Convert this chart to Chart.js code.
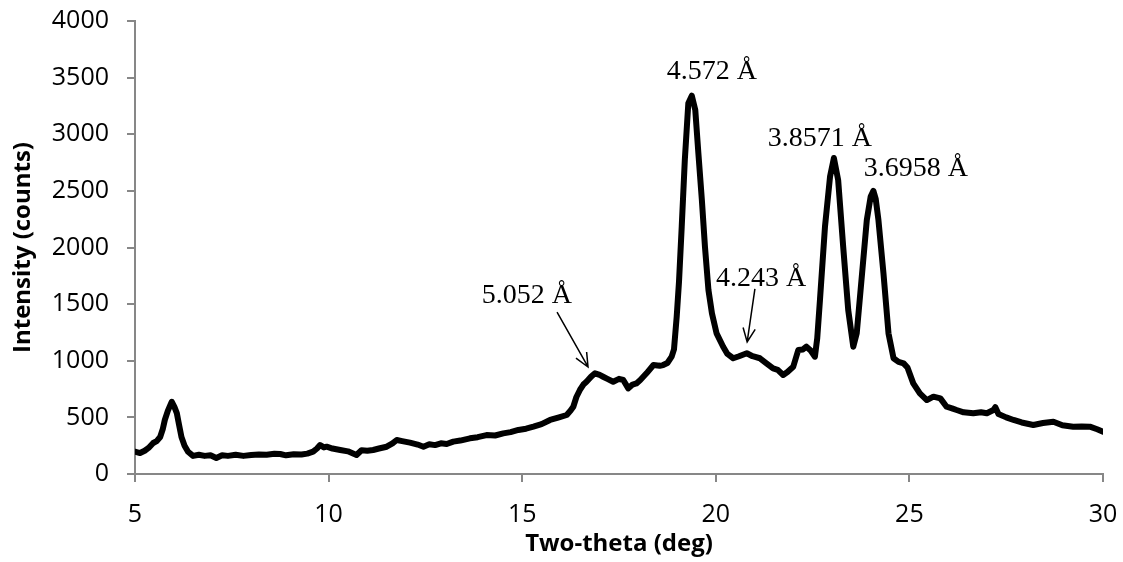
<!DOCTYPE html>
<html>
<head>
<meta charset="utf-8">
<script src="https://cdn.jsdelivr.net/npm/chart.js@4/dist/chart.umd.min.js"></script>
<style>
  body { margin: 0; background: #fff; }
  canvas { display: block; }
</style>
</head>
<body>
<canvas id="grafico" width="1123" height="562"></canvas>
<script>
// XRD scan
const twoTheta = [
  5.00, 5.13, 5.25, 5.35, 5.47, 5.56, 5.65, 5.72, 5.77, 5.85, 5.95, 6.02, 6.08, 6.14, 6.20, 6.28, 6.37, 6.50,
  6.65, 6.80, 6.95, 7.10, 7.25, 7.40, 7.60, 7.80, 8.00, 8.20, 8.40, 8.60, 8.75, 8.90, 9.10, 9.30, 9.45, 9.60,
  9.70, 9.78, 9.88, 9.95, 10.10, 10.30, 10.50, 10.72, 10.85, 11.00, 11.15, 11.30, 11.50, 11.65, 11.76, 11.90,
  12.10, 12.30, 12.45, 12.60, 12.75, 12.90, 13.05, 13.22, 13.40, 13.65, 13.85, 14.08, 14.30, 14.51, 14.70, 14.90,
  15.10, 15.29, 15.50, 15.72, 15.95, 16.15, 16.25, 16.32, 16.40, 16.49, 16.58, 16.66, 16.78, 16.88, 17.00, 17.09,
  17.20, 17.35, 17.50, 17.61, 17.74, 17.85, 17.95, 18.05, 18.21, 18.39, 18.55, 18.64, 18.75, 18.86, 18.92, 18.99,
  19.05, 19.12, 19.20, 19.29, 19.38, 19.47, 19.55, 19.64, 19.72, 19.81, 19.90, 20.02, 20.19, 20.30, 20.45, 20.60,
  20.80, 20.95, 21.14, 21.30, 21.48, 21.60, 21.74, 21.85, 22.00, 22.13, 22.25, 22.34, 22.45, 22.56, 22.62, 22.69,
  22.82, 22.95, 23.05, 23.16, 23.29, 23.42, 23.55, 23.64, 23.77, 23.90, 24.00, 24.07, 24.13, 24.20, 24.33, 24.46,
  24.59, 24.72, 24.85, 24.95, 25.10, 25.27, 25.45, 25.62, 25.80, 25.96, 26.10, 26.22, 26.40, 26.65, 26.85, 27.00,
  27.17, 27.22, 27.30, 27.50, 27.69, 27.90, 28.20, 28.45, 28.72, 28.95, 29.23, 29.45, 29.66, 29.85, 30.00
];
const intensity = [
  197, 185, 205, 230, 274, 290, 327, 400, 477, 560, 638, 590, 537, 430, 327, 250, 197, 160,
  170, 160, 165, 141, 165, 160, 170, 160, 168, 172, 170, 178, 177, 165, 175, 172, 180, 197,
  225, 256, 235, 241, 225, 212, 200, 168, 210, 205, 212, 225, 241, 270, 300, 290,
  277, 260, 241, 262, 255, 271, 265, 286, 295, 315, 325, 344, 340, 359, 370, 389,
  400, 418, 440, 477, 500, 521, 560, 594, 680, 742, 790, 815, 860, 889, 875, 859,
  840, 815, 840, 830, 756, 790, 800, 830, 889, 962, 955, 962, 980, 1036, 1100, 1389,
  1700, 2184, 2773, 3273, 3340, 3214, 2832, 2419, 2007, 1625, 1419, 1242, 1124, 1060, 1022, 1040,
  1066, 1040, 1022, 980, 933, 920, 874, 900, 947, 1095, 1100, 1124, 1090, 1036, 1200, 1536,
  2184, 2625, 2790, 2596, 2007, 1448, 1124, 1242, 1742, 2243, 2450, 2500, 2430, 2243, 1772, 1242,
  1022, 990, 977, 940, 800, 712, 653, 683, 668, 594, 580, 565, 545, 536, 545, 536,
  565, 590, 530, 500, 477, 455, 433, 450, 462, 430, 418, 420, 418, 395, 374
];

// peak labels (d-spacings) and where they sit, in data units
const peakLabels = ['5.052 Å', '4.243 Å', '4.572 Å', '3.8571 Å', '3.6958 Å'];
const labelX = [15.12, 21.17, 19.9, 22.69, 25.17];
const labelY = [1510, 1660, 3488, 2896, 2631];

// arrows: start -> tip, in data units
const arrowFromX = [15.9, 21.01];
const arrowFromY = [1430, 1634];
const arrowToX = [16.7, 20.81];
const arrowToY = [945, 1166];

const axisGrey = '#878787';
const tickFont = { family: "'Open Sans', sans-serif", size: 25 };
const titleFont = { family: "'Open Sans', sans-serif", size: 24, weight: 'bold' };

const peakNotes = {
  id: 'peakNotes',
  afterDatasetsDraw(chart) {
    const c = chart.ctx;
    const xs = chart.scales.x, ys = chart.scales.y;
    c.save();
    c.fillStyle = '#000';
    c.font = "28px 'Liberation Serif', 'Times New Roman', serif";
    c.textAlign = 'center';
    c.textBaseline = 'alphabetic';
    peakLabels.forEach((t, i) => {
      c.fillText(t, xs.getPixelForValue(labelX[i]), ys.getPixelForValue(labelY[i]));
    });
    c.strokeStyle = '#000';
    c.lineWidth = 1.5;
    arrowFromX.forEach((fx, i) => {
      const x1 = xs.getPixelForValue(fx), y1 = ys.getPixelForValue(arrowFromY[i]);
      const x2 = xs.getPixelForValue(arrowToX[i]), y2 = ys.getPixelForValue(arrowToY[i]);
      const a = Math.atan2(y2 - y1, x2 - x1);
      const h = 15, spread = 0.42;
      c.beginPath();
      c.moveTo(x1, y1);
      c.lineTo(x2, y2);
      c.moveTo(x2 - h * Math.cos(a - spread), y2 - h * Math.sin(a - spread));
      c.lineTo(x2, y2);
      c.lineTo(x2 - h * Math.cos(a + spread), y2 - h * Math.sin(a + spread));
      c.stroke();
    });
    c.restore();
  }
};

const ctx = document.getElementById('grafico').getContext('2d');
const myChart = new Chart(ctx, {
  type: 'line',
  data: {
    datasets: [{
      data: twoTheta.map((x, i) => ({ x: x, y: intensity[i] })),
      borderColor: '#000',
      borderWidth: 6,
      pointRadius: 0,
      tension: 0,
      borderJoinStyle: 'round',
      borderCapStyle: 'round'
    }]
  },
  options: {
    responsive: false,
    animation: false,
    layout: { padding: { left: 0, right: 20, top: 21, bottom: 0 } },
    plugins: { legend: { display: false }, tooltip: { enabled: false } },
    scales: {
      x: {
        type: 'linear',
        min: 5,
        max: 30,
        ticks: { stepSize: 5, color: '#000', font: tickFont, padding: 18 },
        grid: { drawOnChartArea: false, tickLength: 8, color: axisGrey, lineWidth: 2 },
        border: { color: axisGrey, width: 2 },
        title: { display: true, text: 'Two-theta (deg)', color: '#000', font: titleFont, padding: { top: 0, bottom: 3 } },
        afterFit: s => { s.height = 88; s.paddingLeft = 0; s.paddingRight = 0; }
      },
      y: {
        min: 0,
        max: 4000,
        ticks: { stepSize: 500, color: '#000', font: tickFont, padding: 18, callback: v => String(v) },
        grid: { drawOnChartArea: false, tickLength: 8, color: axisGrey, lineWidth: 2 },
        border: { color: axisGrey, width: 2 },
        title: { display: true, text: 'Intensity (counts)', color: '#000', font: titleFont, padding: { top: 9, bottom: 0 } },
        afterFit: s => { s.width = 135; s.paddingTop = 0; s.paddingBottom = 0; }
      }
    }
  },
  plugins: [peakNotes]
});
</script>
</body>
</html>
